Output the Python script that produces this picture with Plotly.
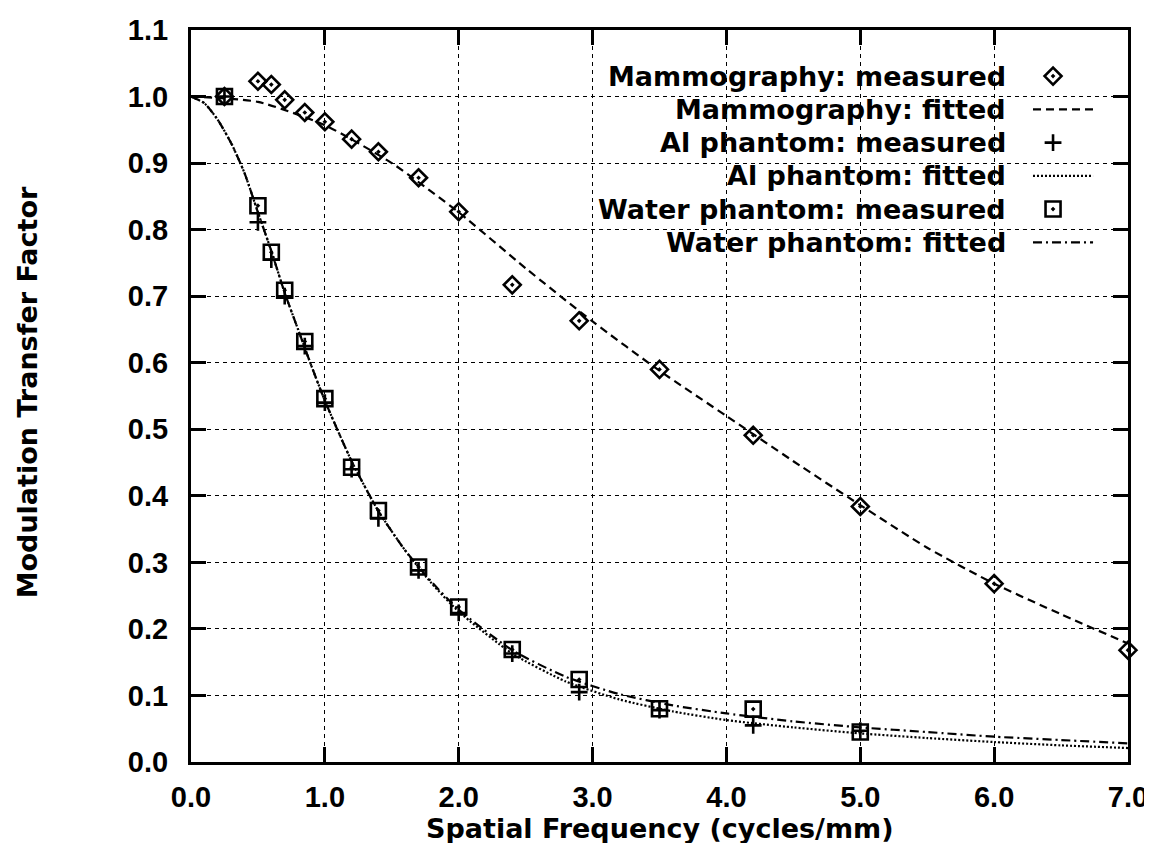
import plotly.graph_objects as go

# ---------------- data ----------------
mammo_meas_x = [0.25, 0.5, 0.6, 0.7, 0.85, 1.0, 1.2, 1.4, 1.7, 2.0, 2.4, 2.9, 3.5, 4.2, 5.0, 6.0, 7.0]
mammo_meas_y = [1.0, 1.023, 1.018, 0.995, 0.976, 0.962, 0.936, 0.917, 0.878, 0.827, 0.717, 0.663, 0.59, 0.491, 0.384, 0.268, 0.168]

mammo_fit_x = [0.0, 0.5, 1.0, 1.5, 2.0, 2.5, 3.0, 3.5, 4.0, 4.5, 5.0, 5.5, 6.0, 6.5, 7.0]
mammo_fit_y = [1.0, 0.992, 0.957, 0.9, 0.826, 0.742, 0.662, 0.588, 0.52, 0.452, 0.386, 0.322, 0.268, 0.222, 0.178]

al_meas_x = [0.25, 0.5, 0.6, 0.7, 0.85, 1.0, 1.2, 1.4, 1.7, 2.0, 2.4, 2.9, 3.5, 4.2, 5.0]
al_meas_y = [1.0, 0.811, 0.755, 0.70, 0.625, 0.54, 0.44, 0.366, 0.288, 0.224, 0.163, 0.105, 0.078, 0.055, 0.047]

al_fit_x = [0.0, 0.1, 0.2, 0.3, 0.4, 0.5, 0.6, 0.7, 0.8, 0.9, 1.0, 1.2, 1.4, 1.6, 1.8, 2.0,
            2.4, 2.8, 3.2, 3.6, 4.0, 4.5, 5.0, 5.5, 6.0, 6.5, 7.0]
al_fit_y = [1.0, 0.99, 0.965, 0.93, 0.885, 0.826, 0.768, 0.705, 0.65, 0.595, 0.543, 0.452, 0.377, 0.318, 0.268, 0.226,
            0.163, 0.121, 0.094, 0.076, 0.063, 0.052, 0.043, 0.036, 0.030, 0.025, 0.021]

water_meas_x = [0.25, 0.5, 0.6, 0.7, 0.85, 1.0, 1.2, 1.4, 1.7, 2.0, 2.4, 2.9, 3.5, 4.2, 5.0]
water_meas_y = [1.0, 0.836, 0.766, 0.709, 0.632, 0.546, 0.443, 0.378, 0.293, 0.233, 0.169, 0.124, 0.080, 0.0795, 0.045]

water_fit_x = [0.0, 0.1, 0.2, 0.3, 0.4, 0.5, 0.6, 0.7, 0.8, 0.9, 1.0, 1.2, 1.4, 1.6, 1.8, 2.0,
               2.4, 2.8, 3.2, 3.6, 4.0, 4.5, 5.0, 5.5, 6.0, 6.5, 7.0]
water_fit_y = [1.0, 0.99, 0.965, 0.93, 0.885, 0.826, 0.768, 0.705, 0.65, 0.595, 0.543, 0.452, 0.377, 0.318, 0.27, 0.229,
               0.168, 0.128, 0.102, 0.085, 0.073, 0.061, 0.052, 0.045, 0.038, 0.033, 0.028]

x_ticks = [0, 1, 2, 3, 4, 5, 6, 7]
x_tick_labels = ["0.0", "1.0", "2.0", "3.0", "4.0", "5.0", "6.0", "7.0"]
y_ticks = [0.0, 0.1, 0.2, 0.3, 0.4, 0.5, 0.6, 0.7, 0.8, 0.9, 1.0, 1.1]
y_tick_labels = ["0.0", "0.1", "0.2", "0.3", "0.4", "0.5", "0.6", "0.7", "0.8", "0.9", "1.0", "1.1"]

series_names = ["Mammography: measured", "Mammography: fitted",
                "Al phantom: measured", "Al phantom: fitted",
                "Water phantom: measured", "Water phantom: fitted"]

x_title = "Spatial Frequency (cycles/mm)"
y_title = "Modulation Transfer Factor"

# ---------------- styles ----------------
BLACK = "black"
TICK_FONT = dict(family="Liberation Sans, Arial, sans-serif", size=29, color=BLACK, weight="bold")
TEXT_FONT = dict(family="DejaVu Sans, sans-serif", size=27, color=BLACK)

styles = [
    dict(mode="markers", marker=dict(symbol="diamond-open-dot", size=13, color=BLACK, line=dict(width=2.6, color=BLACK))),
    dict(mode="lines", line=dict(color=BLACK, width=2.2, dash="8px,5px")),
    dict(mode="markers", marker=dict(symbol="cross-thin-open", size=12, color=BLACK, line=dict(width=2.6, color=BLACK))),
    dict(mode="lines", line=dict(color=BLACK, width=2.2, dash="2px,2px")),
    dict(mode="markers", marker=dict(symbol="square-open-dot", size=15, color=BLACK, line=dict(width=2.6, color=BLACK))),
    dict(mode="lines", line=dict(color=BLACK, width=2.2, dash="9px,4px,2px,4px")),
]

series_data = [
    (mammo_meas_x, mammo_meas_y),
    (mammo_fit_x, mammo_fit_y),
    (al_meas_x, al_meas_y),
    (al_fit_x, al_fit_y),
    (water_meas_x, water_meas_y),
    (water_fit_x, water_fit_y),
]

fig = go.Figure()

# draw fitted lines first, then markers
order = [1, 3, 5, 0, 2, 4]
for i in order:
    xs, ys = series_data[i]
    st = styles[i]
    kw = dict(x=xs, y=ys, name=series_names[i], mode=st["mode"], cliponaxis=False, showlegend=False)
    if st["mode"] == "lines":
        kw["line"] = dict(st["line"], shape="spline", smoothing=0.6)
    else:
        kw["marker"] = st["marker"]
    fig.add_trace(go.Scatter(**kw))

# ---------------- custom gnuplot-style key (text, then sample) ----------------
key_text_x = 0.872
key_row0 = 0.937
key_step = 0.0454
key_line_x0, key_line_x1 = 0.8986, 0.9627
key_marker_x = 0.920
annotations = []
for i, name in enumerate(series_names):
    yk = key_row0 - i * key_step
    annotations.append(dict(x=key_text_x, y=yk, xref="paper", yref="paper", text="<b>" + name + "</b>",
                            showarrow=False, xanchor="right", yanchor="middle", font=TEXT_FONT))
    st = styles[i]
    if st["mode"] == "lines":
        fig.add_trace(go.Scatter(x=[key_line_x0, key_line_x1], y=[yk, yk], xaxis="x2", yaxis="y2",
                                 mode="lines", line=st["line"], showlegend=False, hoverinfo="skip"))
    else:
        fig.add_trace(go.Scatter(x=[key_marker_x], y=[yk], xaxis="x2", yaxis="y2",
                                 mode="markers", marker=st["marker"], showlegend=False, hoverinfo="skip",
                                 cliponaxis=False))

annotations.append(dict(x=0.5, y=-0.0902, xref="paper", yref="paper", text="<b>" + x_title + "</b>",
                        showarrow=False, xanchor="center", yanchor="middle", font=TEXT_FONT))
annotations.append(dict(x=-0.175, y=0.505, xref="paper", yref="paper", text="<b>" + y_title + "</b>",
                        showarrow=False, xanchor="center", yanchor="middle", textangle=-90, font=TEXT_FONT))

axis_common = dict(
    ticks="inside", ticklen=15, tickwidth=3, tickcolor=BLACK,
    showline=True, linewidth=3, linecolor=BLACK, mirror="allticks",
    showgrid=True, gridcolor=BLACK, gridwidth=1, griddash="4px,4px",
    zeroline=False, tickfont=TICK_FONT,
)

# the page body has an 8px default margin, so the figure is 8px smaller
fig.update_layout(
    width=1144, height=835,
    margin=dict(l=183, r=24, t=22, b=81, autoexpand=False),
    plot_bgcolor="white", paper_bgcolor="white",
    showlegend=False,
    xaxis=dict(range=[0, 7], tickvals=x_ticks, ticktext=x_tick_labels, ticklabelstandoff=7, **axis_common),
    yaxis=dict(range=[0, 1.1], tickvals=y_ticks, ticktext=y_tick_labels, ticklabelstandoff=14, **axis_common),
    xaxis2=dict(overlaying="x", range=[0, 1], visible=False, fixedrange=True),
    yaxis2=dict(overlaying="y", range=[0, 1], visible=False, fixedrange=True),
    annotations=annotations,
)

fig.write_html("out.html")
